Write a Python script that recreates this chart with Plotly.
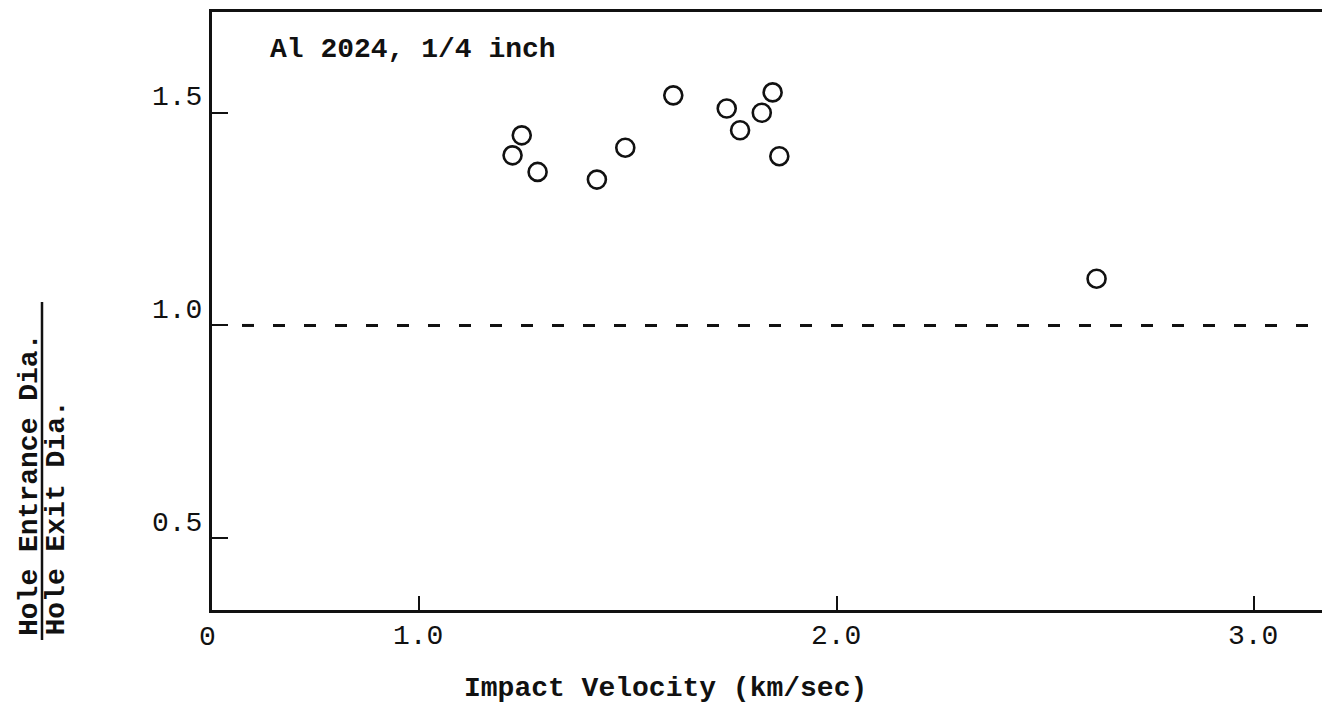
import plotly.graph_objects as go

# Measured ratios of entrance to exit hole diameter versus impact velocity
velocity = [1.223, 1.245, 1.283, 1.425, 1.493, 1.608, 1.736, 1.768, 1.820, 1.846, 1.862, 2.622]
diameter_ratio = [1.400, 1.447, 1.361, 1.343, 1.418, 1.541, 1.510, 1.459, 1.500, 1.548, 1.398, 1.110]

x_ticks = [1.0, 2.0, 3.0]
x_tick_labels = ["1.0", "2.0", "3.0"]
y_ticks = [0.5, 1.0, 1.5]
y_tick_labels = ["0.5", "1.0", "1.5"]
reference_ratio = 1.0

W, H = 1322, 707
L, R, T, B = 212, 0, 12, 97
FONT = "Liberation Mono"
INK = "#111111"

X_RANGE = [0.503, 3.162]
Y_RANGE = [0.331, 1.737]


def px_x(px):
    return (px - L) / (W - L - R)


def px_y(py):
    return (H - B - py) / (H - T - B)


fig = go.Figure()

fig.add_trace(go.Scatter(
    x=velocity, y=diameter_ratio, mode="markers",
    marker=dict(symbol="circle-open", size=18, color=INK, line=dict(width=2.6)),
    showlegend=False, hoverinfo="x+y",
))

# dashed reference line at ratio = 1
fig.add_shape(type="line", xref="paper", yref="y", x0=px_x(242), x1=1,
              y0=reference_ratio, y1=reference_ratio,
              line=dict(color=INK, width=3, dash="12px,19px"))

tick_font = dict(family=FONT, size=28, color=INK)
text_font = dict(family=FONT, size=28, color=INK, weight="bold")

ann = []
# x tick labels (the axis break is labelled 0 at the corner)
ann.append(dict(x=px_x(207), y=px_y(637), xref="paper", yref="paper", text="0",
                showarrow=False, xanchor="center", yanchor="middle", font=tick_font))
for v, t in zip(x_ticks, x_tick_labels):
    ann.append(dict(x=v, y=px_y(636), xref="x", yref="paper", text=t, xshift=-1,
                    showarrow=False, xanchor="center", yanchor="middle", font=tick_font))
# y tick labels sit just above their ticks
for v, t in zip(y_ticks, y_tick_labels):
    ann.append(dict(x=px_x(204), y=v, xref="paper", yref="y", text=t, yshift=15,
                    showarrow=False, xanchor="right", yanchor="middle", font=tick_font))

ann.append(dict(x=px_x(268), y=px_y(50), xref="paper", yref="paper",
                text="Al 2024, 1/4 inch", showarrow=False,
                xanchor="left", yanchor="middle", font=text_font))
ann.append(dict(x=px_x(462), y=px_y(688), xref="paper", yref="paper",
                text="Impact Velocity (km/sec)", showarrow=False,
                xanchor="left", yanchor="middle", font=text_font))
# y-axis title written as a fraction
ann.append(dict(x=px_x(29), y=px_y(638), xref="paper", yref="paper",
                text="Hole Entrance Dia.", textangle=-90, showarrow=False,
                xanchor="center", yanchor="bottom", font=text_font))
ann.append(dict(x=px_x(56), y=px_y(638), xref="paper", yref="paper",
                text="Hole Exit Dia.", textangle=-90, showarrow=False,
                xanchor="center", yanchor="bottom", font=text_font))

fig.add_shape(type="line", xref="paper", yref="paper",
              x0=px_x(42), x1=px_x(42), y0=px_y(640), y1=px_y(302),
              line=dict(color=INK, width=2.5))

fig.update_layout(
    width=W, height=H,
    margin=dict(l=L, r=R, t=T, b=B),
    paper_bgcolor="white", plot_bgcolor="white",
    annotations=ann,
    xaxis=dict(range=X_RANGE, showgrid=False, zeroline=False,
               showline=True, linecolor=INK, linewidth=3, mirror=True,
               tickvals=x_ticks, ticktext=["", "", ""], ticks="inside",
               ticklen=14, tickwidth=2, tickcolor=INK),
    yaxis=dict(range=Y_RANGE, showgrid=False, zeroline=False,
               showline=True, linecolor=INK, linewidth=3, mirror=False,
               tickvals=y_ticks, ticktext=["", "", ""], ticks="inside",
               ticklen=16, tickwidth=2, tickcolor=INK),
)

fig.write_html("out.html")
